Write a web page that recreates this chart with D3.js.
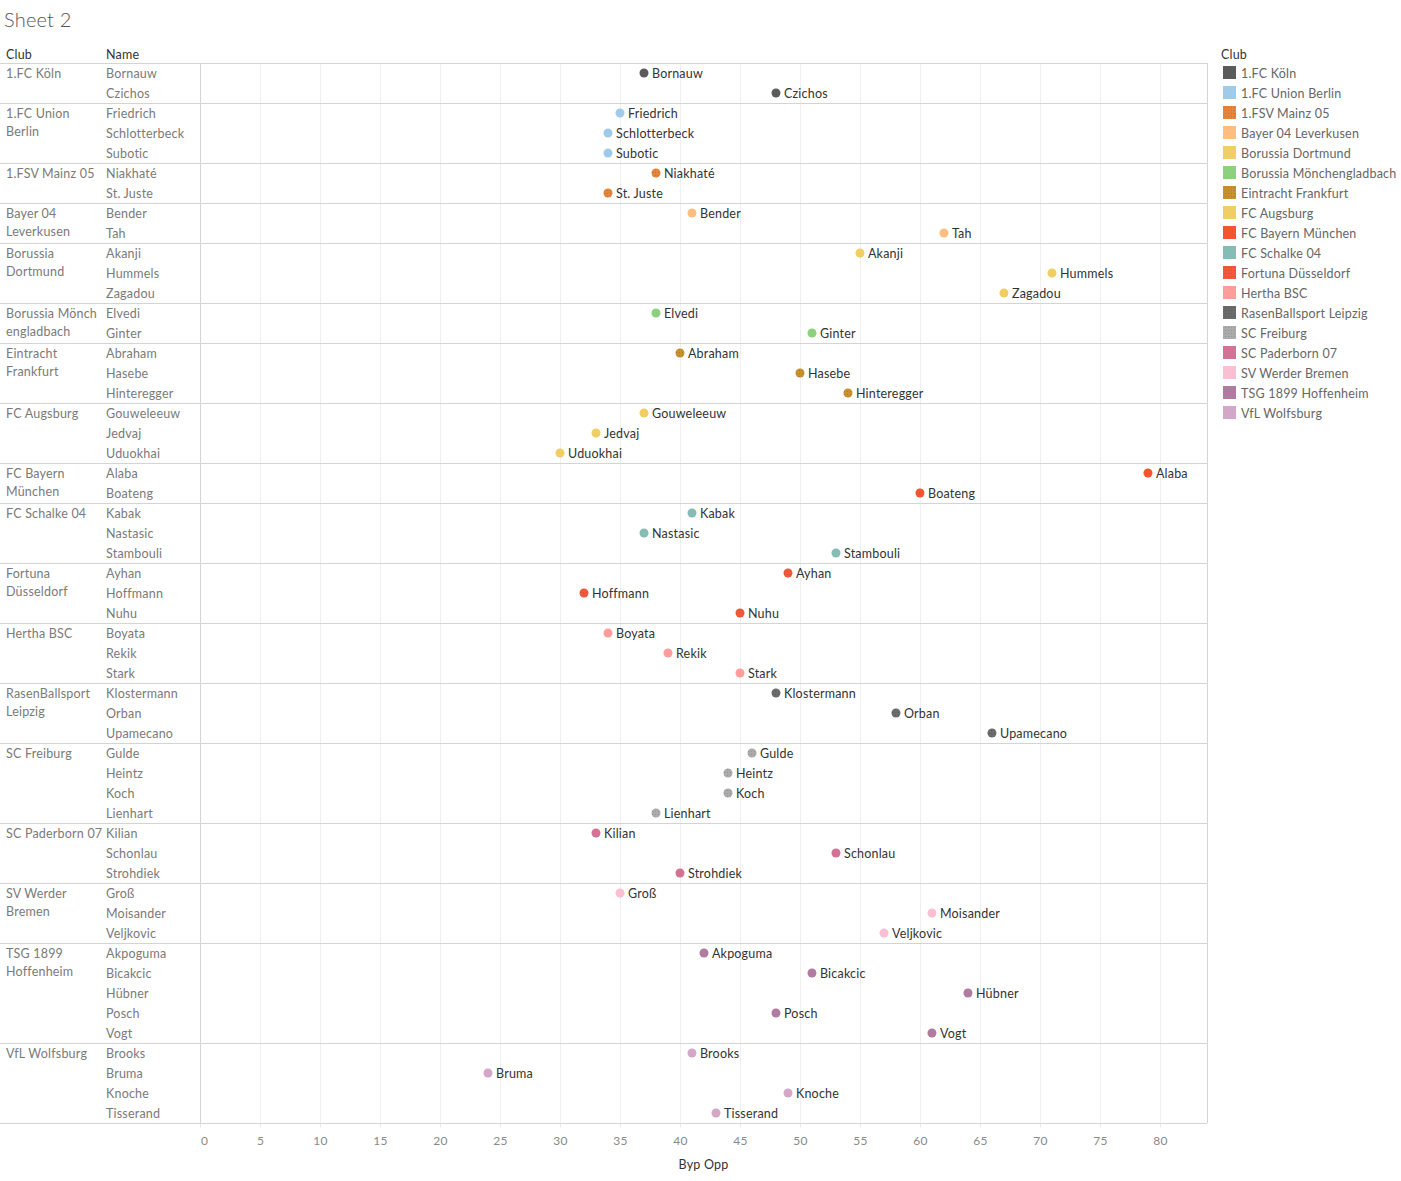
<!DOCTYPE html>
<html>
<head>
<meta charset="utf-8">
<script src="https://cdn.jsdelivr.net/npm/d3@7"></script>
<style>
  html, body { margin: 0; padding: 0; background: #fff; }
  svg { display: block; font-family: Lato, "Noto Sans", sans-serif; letter-spacing: 0.2px; }
</style>
</head>
<body>
<svg id="chart" width="1401" height="1181"></svg>
<script>
// ---------- DATA ----------
const clubs = [
  "1.FC Köln", "1.FC Union Berlin", "1.FSV Mainz 05", "Bayer 04 Leverkusen",
  "Borussia Dortmund", "Borussia Mönchengladbach", "Eintracht Frankfurt",
  "FC Augsburg", "FC Bayern München", "FC Schalke 04", "Fortuna Düsseldorf",
  "Hertha BSC", "RasenBallsport Leipzig", "SC Freiburg", "SC Paderborn 07",
  "SV Werder Bremen", "TSG 1899 Hoffenheim", "VfL Wolfsburg"
];
const clubLabelLines = [
  ["1.FC Köln"], ["1.FC Union", "Berlin"], ["1.FSV Mainz 05"], ["Bayer 04", "Leverkusen"],
  ["Borussia", "Dortmund"], ["Borussia Mönch", "engladbach"], ["Eintracht", "Frankfurt"],
  ["FC Augsburg"], ["FC Bayern", "München"], ["FC Schalke 04"], ["Fortuna", "Düsseldorf"],
  ["Hertha BSC"], ["RasenBallsport", "Leipzig"], ["SC Freiburg"], ["SC Paderborn 07"],
  ["SV Werder", "Bremen"], ["TSG 1899", "Hoffenheim"], ["VfL Wolfsburg"]
];
const clubColors = [
  "#5b5b5b", "#a0cbe8", "#e8833a", "#ffbe7d",
  "#f1ce63", "#8cd17d", "#c9902e",
  "#f1ce63", "#f1562e", "#86bcb6", "#f05a3a",
  "#ff9d9a", "#6b6b6b", "#ababab", "#d37295",
  "#fabfd2", "#b07aa1", "#d4a6c8"
];
// clubs whose marks carry a fine dot texture
const clubPatterned = [false,false,true,false,false,false,true,false,false,false,true,false,true,true,false,false,false,false];

const playerNames = [
  "Bornauw", "Czichos",
  "Friedrich", "Schlotterbeck", "Subotic",
  "Niakhaté", "St. Juste",
  "Bender", "Tah",
  "Akanji", "Hummels", "Zagadou",
  "Elvedi", "Ginter",
  "Abraham", "Hasebe", "Hinteregger",
  "Gouweleeuw", "Jedvaj", "Uduokhai",
  "Alaba", "Boateng",
  "Kabak", "Nastasic", "Stambouli",
  "Ayhan", "Hoffmann", "Nuhu",
  "Boyata", "Rekik", "Stark",
  "Klostermann", "Orban", "Upamecano",
  "Gulde", "Heintz", "Koch", "Lienhart",
  "Kilian", "Schonlau", "Strohdiek",
  "Groß", "Moisander", "Veljkovic",
  "Akpoguma", "Bicakcic", "Hübner", "Posch", "Vogt",
  "Brooks", "Bruma", "Knoche", "Tisserand"
];
const playerClubs = [
  "1.FC Köln", "1.FC Köln",
  "1.FC Union Berlin", "1.FC Union Berlin", "1.FC Union Berlin",
  "1.FSV Mainz 05", "1.FSV Mainz 05",
  "Bayer 04 Leverkusen", "Bayer 04 Leverkusen",
  "Borussia Dortmund", "Borussia Dortmund", "Borussia Dortmund",
  "Borussia Mönchengladbach", "Borussia Mönchengladbach",
  "Eintracht Frankfurt", "Eintracht Frankfurt", "Eintracht Frankfurt",
  "FC Augsburg", "FC Augsburg", "FC Augsburg",
  "FC Bayern München", "FC Bayern München",
  "FC Schalke 04", "FC Schalke 04", "FC Schalke 04",
  "Fortuna Düsseldorf", "Fortuna Düsseldorf", "Fortuna Düsseldorf",
  "Hertha BSC", "Hertha BSC", "Hertha BSC",
  "RasenBallsport Leipzig", "RasenBallsport Leipzig", "RasenBallsport Leipzig",
  "SC Freiburg", "SC Freiburg", "SC Freiburg", "SC Freiburg",
  "SC Paderborn 07", "SC Paderborn 07", "SC Paderborn 07",
  "SV Werder Bremen", "SV Werder Bremen", "SV Werder Bremen",
  "TSG 1899 Hoffenheim", "TSG 1899 Hoffenheim", "TSG 1899 Hoffenheim", "TSG 1899 Hoffenheim", "TSG 1899 Hoffenheim",
  "VfL Wolfsburg", "VfL Wolfsburg", "VfL Wolfsburg", "VfL Wolfsburg"
];
const bypOpp = [
  37, 48,
  35, 34, 34,
  38, 34,
  41, 62,
  55, 71, 67,
  38, 51,
  40, 50, 54,
  37, 33, 30,
  79, 60,
  41, 37, 53,
  49, 32, 45,
  34, 39, 45,
  48, 58, 66,
  46, 44, 44, 38,
  33, 53, 40,
  35, 61, 57,
  42, 51, 64, 48, 61,
  41, 24, 49, 43
];
const xTicks = [0, 5, 10, 15, 20, 25, 30, 35, 40, 45, 50, 55, 60, 65, 70, 75, 80];
const xTitle = "Byp Opp";
const chartTitle = "Sheet 2";

// ---------- LAYOUT ----------
const svg = d3.select("#chart");
const plotLeft = 200, plotRight = 1207, plotTop = 63, rowH = 20;
const nRows = playerNames.length;
const plotBottom = plotTop + nRows * rowH;
const FS = 12.5;

const x = d3.scaleLinear().domain([0, 83.92]).range([plotLeft, plotRight]);
const y = d3.scaleBand().domain(d3.range(nRows)).range([plotTop, plotBottom]);
const color = d3.scaleOrdinal().domain(clubs).range(clubColors);

// patterns
const defs = svg.append("defs");
clubs.forEach((c, i) => {
  if (!clubPatterned[i]) return;
  const p = defs.append("pattern").attr("id", "pat" + i)
    .attr("patternUnits", "userSpaceOnUse").attr("width", 3).attr("height", 3);
  p.append("rect").attr("width", 3).attr("height", 3).attr("fill", clubColors[i]);
  p.append("rect").attr("x", 1).attr("y", 1).attr("width", 1).attr("height", 1)
    .attr("fill", d3.color(clubColors[i]).darker(0.6)).attr("opacity", 0.7);
});
const fillFor = c => { const i = clubs.indexOf(c); return clubPatterned[i] ? `url(#pat${i})` : color(c); };

// title
svg.append("text").attr("x", 4).attr("y", 27).attr("font-size", 20).attr("font-weight", 300)
  .attr("fill", "#555").text(chartTitle);

// headers
svg.append("text").attr("x", 6).attr("y", 59).attr("font-size", FS).attr("fill", "#333").text("Club");
svg.append("text").attr("x", 106).attr("y", 59).attr("font-size", FS).attr("fill", "#333").text("Name");

// vertical gridlines
svg.append("g").selectAll("line").data(xTicks.filter(t => t > 0)).join("line")
  .attr("x1", d => x(d) + 0.5).attr("x2", d => x(d) + 0.5)
  .attr("y1", plotTop).attr("y2", plotBottom)
  .attr("stroke", "#efefef").attr("stroke-width", 1);

// club boundaries
const clubStarts = [];
playerClubs.forEach((c, i) => { if (i === 0 || playerClubs[i - 1] !== c) clubStarts.push(i); });
const sepG = svg.append("g");
clubStarts.concat([nRows]).forEach(i => {
  const yy = plotTop + i * rowH + 0.5;
  sepG.append("line").attr("x1", 0).attr("x2", plotRight).attr("y1", yy).attr("y2", yy)
    .attr("stroke", "#d4d4d4").attr("stroke-width", 1);
});
// pane borders
svg.append("line").attr("x1", plotLeft + 0.5).attr("x2", plotLeft + 0.5)
  .attr("y1", plotTop).attr("y2", plotBottom + 4).attr("stroke", "#d4d4d4");
svg.append("line").attr("x1", plotRight + 0.5).attr("x2", plotRight + 0.5)
  .attr("y1", plotTop).attr("y2", plotBottom).attr("stroke", "#d4d4d4");

// club labels
clubStarts.forEach(i => {
  const ci = clubs.indexOf(playerClubs[i]);
  const t = svg.append("text").attr("x", 6).attr("y", y(i) + 15).attr("font-size", FS).attr("fill", "#7a7a7a");
  clubLabelLines[ci].forEach((ln, k) => {
    t.append("tspan").attr("x", 6).attr("dy", k === 0 ? 0 : 18).text(ln);
  });
});

// player names
svg.append("g").selectAll("text").data(playerNames).join("text")
  .attr("x", 106).attr("y", (d, i) => y(i) + 15).attr("font-size", FS).attr("fill", "#7a7a7a")
  .text(d => d);

// dots
const dots = svg.append("g");
dots.selectAll("circle").data(bypOpp).join("circle")
  .attr("cx", (d) => x(d)).attr("cy", (d, i) => y(i) + rowH / 2)
  .attr("r", 4.5).attr("fill", (d, i) => fillFor(playerClubs[i]));
dots.selectAll("text").data(bypOpp).join("text")
  .attr("x", d => x(d) + 8).attr("y", (d, i) => y(i) + 15)
  .attr("font-size", FS).attr("fill", "#333").text((d, i) => playerNames[i]);

// x axis
const axisG = svg.append("g").attr("transform", `translate(0,${plotBottom + 0.5})`);
axisG.selectAll("line").data(xTicks).join("line")
  .attr("x1", d => x(d) + 0.5).attr("x2", d => x(d) + 0.5).attr("y1", 0).attr("y2", 4)
  .attr("stroke", "#e6e6e6");
axisG.selectAll("text").data(xTicks).join("text")
  .attr("x", d => d === 0 ? x(d) + 4.5 : x(d) + 0.5).attr("y", 21)
  .attr("text-anchor", "middle").attr("font-size", 12).attr("fill", "#8a8a8a")
  .text(d => d);
svg.append("text").attr("x", (plotLeft + plotRight) / 2).attr("y", 1169)
  .attr("text-anchor", "middle").attr("font-size", FS).attr("fill", "#333").text(xTitle);

// legend
const lg = svg.append("g").attr("transform", "translate(1221,0)");
lg.append("text").attr("x", 0).attr("y", 59).attr("font-size", FS).attr("fill", "#333").text("Club");
const items = lg.selectAll("g.item").data(clubs).join("g").attr("class", "item")
  .attr("transform", (d, i) => `translate(0,${66 + i * 20})`);
items.append("rect").attr("x", 2).attr("y", 0).attr("width", 13).attr("height", 13)
  .attr("fill", d => fillFor(d));
items.append("text").attr("x", 20).attr("y", 11.5).attr("font-size", FS).attr("fill", "#666").text(d => d);
</script>
</body>
</html>
